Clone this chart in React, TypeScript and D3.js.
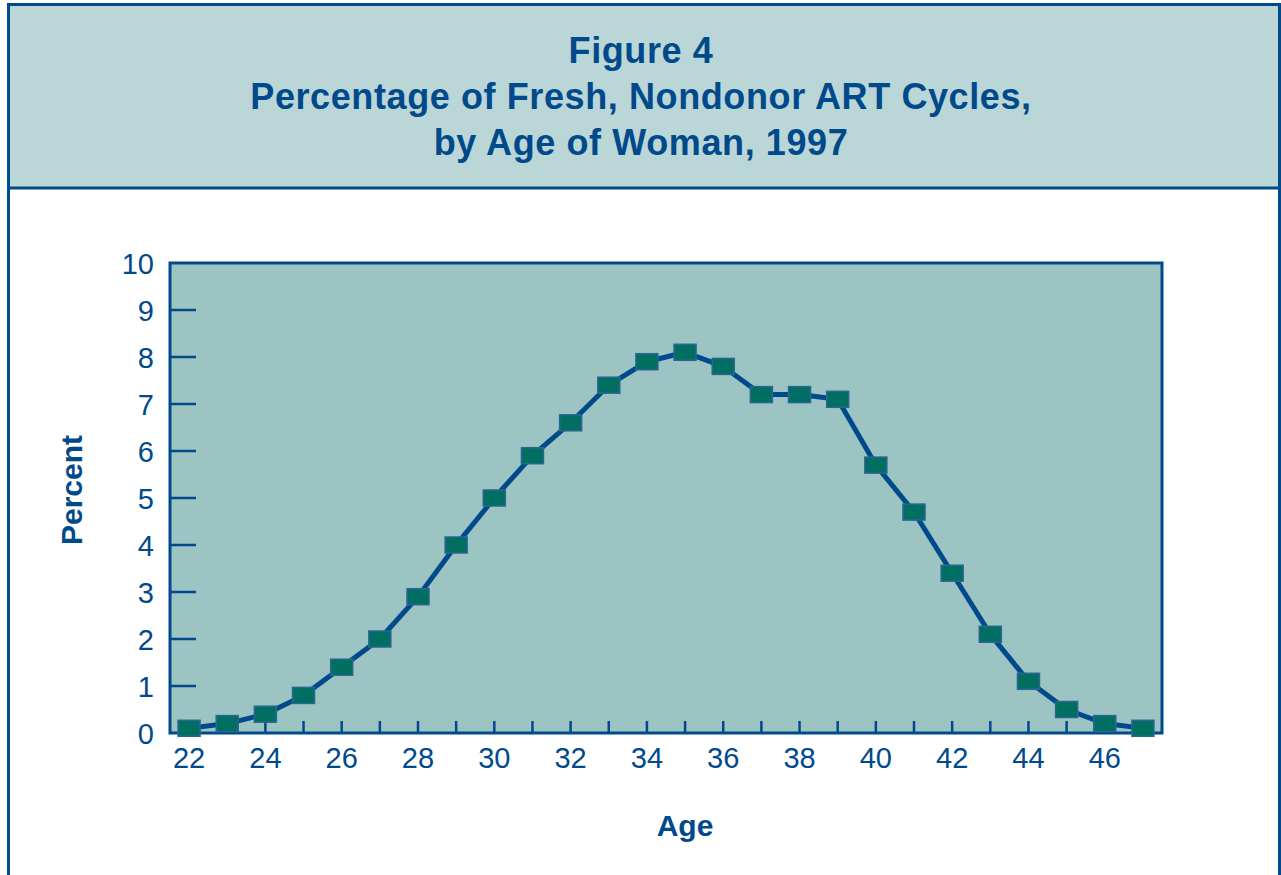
import React from 'react';
import * as d3 from 'd3';

// ages and percentages
const ages = [22, 23, 24, 25, 26, 27, 28, 29, 30, 31, 32, 33, 34, 35, 36, 37, 38, 39, 40, 41, 42, 43, 44, 45, 46, 47];
const percents = [0.1, 0.2, 0.4, 0.8, 1.4, 2.0, 2.9, 4.0, 5.0, 5.9, 6.6, 7.4, 7.9, 8.1, 7.8, 7.2, 7.2, 7.1, 5.7, 4.7, 3.4, 2.1, 1.1, 0.5, 0.2, 0.1];
const xTickLabels = [22, 24, 26, 28, 30, 32, 34, 36, 38, 40, 42, 44, 46];
const yTickLabels = [0, 1, 2, 3, 4, 5, 6, 7, 8, 9, 10];
const titleLines = ['Figure 4', 'Percentage of Fresh, Nondonor ART Cycles,', 'by Age of Woman, 1997'];

const BLUE = '#004a8b';
const HEADER_BG = '#bbd6d6';
const PLOT_BG = '#9cc4c3';
const MARKER = '#006e61';
const FONT = '"Liberation Sans", Arial, sans-serif';

export default function App() {
    const W = 1281, H = 875;
    const plot = { left: 170, right: 1162, top: 263, bottom: 733 };

    const x = d3.scaleLinear().domain([21.5, 47.5]).range([plot.left, plot.right]);
    const y = d3.scaleLinear().domain([0, 10]).range([plot.bottom, plot.top]);

    const line = d3.line<number>()
        .x((d, i) => x(ages[i]))
        .y(d => y(d));

    return (
        <svg width={W} height={H} style={{ position: 'absolute', left: 0, top: 0 }} fontFamily={FONT}>
            <rect x={0} y={0} width={W} height={H} fill="#fff" />
            {/* outer frame + header */}
            <line x1={8.5} y1={4} x2={8.5} y2={H} stroke={BLUE} strokeWidth={3} />
            <line x1={1279.5} y1={4} x2={1279.5} y2={H} stroke={BLUE} strokeWidth={3} />
            <rect x={8.5} y={4.5} width={1271} height={183.5} fill={HEADER_BG} stroke={BLUE} strokeWidth={3} />
            {titleLines.map((t, i) => (
                <text key={t} x={641} y={63 + i * 46} textAnchor="middle" fontSize={36} fontWeight="bold"
                    letterSpacing={0.6} fill={BLUE}>{t}</text>
            ))}

            {/* plot area */}
            <rect x={plot.left} y={plot.top} width={plot.right - plot.left} height={plot.bottom - plot.top}
                fill={PLOT_BG} stroke={BLUE} strokeWidth={3} />

            {/* y ticks */}
            {yTickLabels.map(v => (
                <g key={'y' + v}>
                    {v > 0 && v < 10 && (
                        <line x1={plot.left} x2={plot.left + 26} y1={y(v)} y2={y(v)} stroke={BLUE} strokeWidth={2.5} />
                    )}
                    <text x={154} y={y(v) + 10.5} textAnchor="end" fontSize={29} fill={BLUE}>{v}</text>
                </g>
            ))}

            {/* x ticks */}
            {ages.map(a => (
                <line key={'xt' + a} x1={x(a)} x2={x(a)} y1={plot.bottom} y2={plot.bottom - 12} stroke={BLUE} strokeWidth={2.5} />
            ))}
            {xTickLabels.map(a => (
                <text key={'xl' + a} x={x(a)} y={768} textAnchor="middle" fontSize={29} fill={BLUE}>{a}</text>
            ))}

            {/* series */}
            <path d={line(percents) || ''} fill="none" stroke={BLUE} strokeWidth={5} strokeLinejoin="round" />
            {percents.map((p, i) => (
                <rect key={'m' + i} x={x(ages[i]) - 11} y={y(p) - 8} width={22} height={16}
                    fill={MARKER} stroke="#2a6694" strokeWidth={1.5} />
            ))}

            {/* axis titles */}
            <text x={685} y={836} textAnchor="middle" fontSize={30} fontWeight="bold" fill={BLUE}>Age</text>
            <text transform="translate(82,490) rotate(-90)" textAnchor="middle" fontSize={30} fontWeight="bold" fill={BLUE}>Percent</text>
        </svg>
    );
}
